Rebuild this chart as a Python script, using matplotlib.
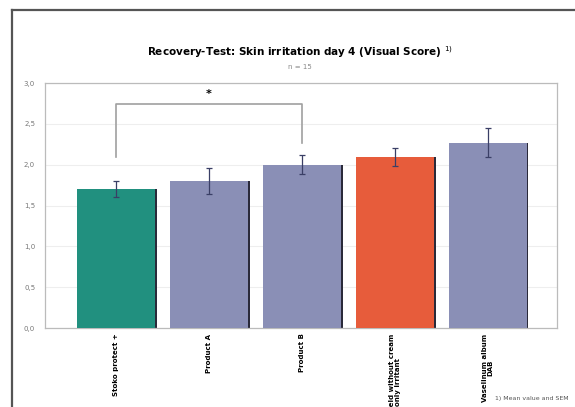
import numpy as np
import matplotlib
matplotlib.use('Agg')
import matplotlib.pyplot as plt
from matplotlib.lines import Line2D

# du lieu
categories = ['Stoko protect +', 'Product A', 'Product B',
              'Test field without cream\nonly irritant', 'Vaselinum album\nDAB']
values = [1.70, 1.80, 2.00, 2.10, 2.27]
sem = [0.10, 0.16, 0.12, 0.11, 0.18]
colors = ['#21907f', '#8a8fb6', '#8a8fb6', '#e75c3b', '#8a8fb6']
yticks = [0.0, 0.5, 1.0, 1.5, 2.0, 2.5, 3.0]

fig = plt.figure(figsize=(5.75, 4.07), dpi=100)
ax = fig.add_axes([0.078, 0.194, 0.891, 0.602])

x = np.arange(len(categories))
w = 0.84
# bong do phia sau cot
ax.bar(x + 0.02, values, width=w, color='#2a2a3a', zorder=2)
ax.bar(x, values, width=w, color=colors, zorder=3)
ax.errorbar(x, values, yerr=sem, fmt='none', ecolor='#3a3f66', elinewidth=0.9,
            capsize=2, capthick=0.9, zorder=4)

# dau sao y nghia thong ke
ax.plot([0, 0, 2, 2], [2.09, 2.74, 2.74, 2.27], color='#a0a0a0', lw=1.2, zorder=4)
ax.text(1.0, 2.87, '*', ha='center', va='center', fontsize=8, fontweight='bold')

ax.set_xlim(-0.77, 4.75)
ax.set_ylim(0, 3.0)
ax.set_yticks(yticks)
ax.set_yticklabels([f'{t:.1f}'.replace('.', ',') for t in yticks], fontsize=5, color='#777777')
ax.yaxis.grid(True, color='#eeeeee', lw=0.8, zorder=0)
ax.set_axisbelow(True)
ax.tick_params(axis='y', length=0, pad=7)
ax.set_xticks(x)
ax.set_xticklabels(categories, rotation=90, fontsize=5, fontweight='bold',
                   va='top', ha='center', linespacing=1.0)
ax.tick_params(axis='x', length=0, pad=4)
for s in ax.spines.values():
    s.set_color('#bbbbbb')
    s.set_linewidth(0.9)

fig.text(0.522, 0.872, 'Recovery-Test: Skin irritation day 4 (Visual Score) $^{1)}$',
         ha='center', va='center', fontsize=7.5, fontweight='bold')
fig.text(0.522, 0.835, 'n = 15', ha='center', va='center', fontsize=5, color='#888888')
fig.text(0.925, 0.022, '1) Mean value and SEM', ha='center', va='center', fontsize=4.5, color='#555555')

# khung vien
fig.add_artist(Line2D([12/575, 12/575], [0, 1 - 10/407], transform=fig.transFigure,
                      color='#555555', lw=1.6))
fig.add_artist(Line2D([12/575, 1], [1 - 10/407, 1 - 10/407], transform=fig.transFigure,
                      color='#555555', lw=1.6))

fig.savefig('out.png', dpi=100)
